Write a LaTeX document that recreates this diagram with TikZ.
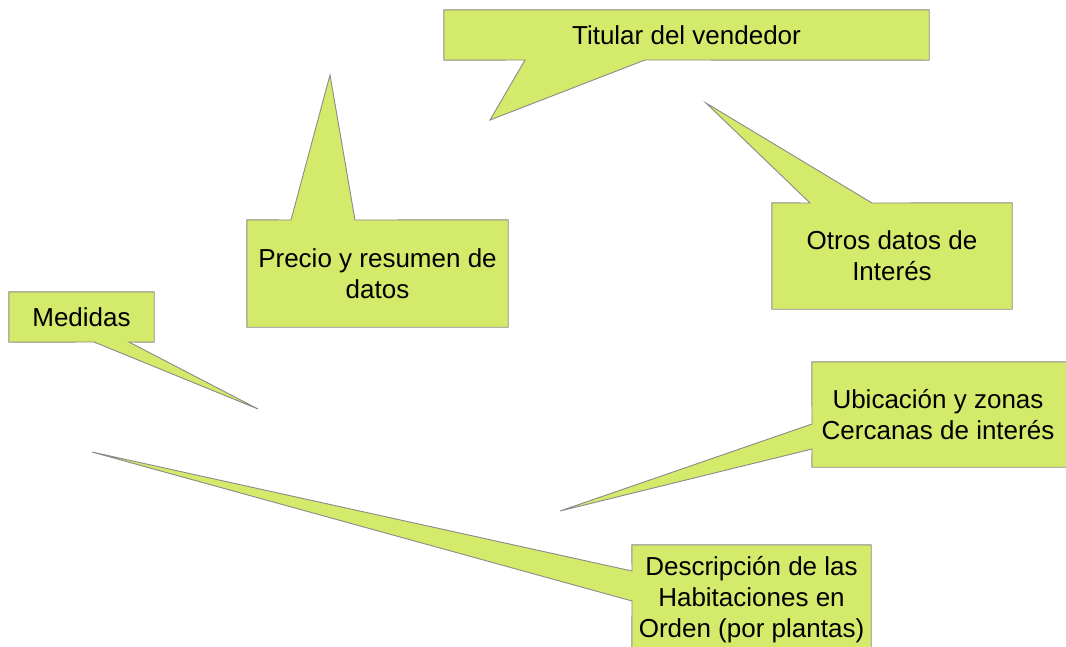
\documentclass[tikz,border=0pt]{standalone}
\usepackage{fontspec}
\setmainfont{Liberation Sans}
\usetikzlibrary{backgrounds,calc}
\definecolor{boxfill}{HTML}{D4EA6B}
\definecolor{boxline}{HTML}{8A8A8A}
\tikzset{
  calloutbox/.style={shape=rectangle, inner sep=0pt, align=center,
    font=\fontsize{26}{31}\selectfont, text=black},
  calloutshape/.style={fill=boxfill, draw=boxline, line width=0.9pt, line join=miter},
}
\begin{document}
\begin{tikzpicture}[x=1pt,y=-1pt]
\useasboundingbox (0,0) rectangle (1066,646);

% Titular del vendedor
\node[calloutbox, minimum width=485, minimum height=50] (tit) at (686.5,35) {Titular del vendedor};
\coordinate (tit-a) at (525,60);
\coordinate (tit-b) at (645,60);
\coordinate (tit-tip) at (490,120);

% Precio
\node[calloutbox, minimum width=261, minimum height=107] (pre) at (377.5,273.5) {Precio y resumen de\\datos};
\coordinate (pre-a) at (291,220);
\coordinate (pre-b) at (355,220);
\coordinate (pre-tip) at (330,75);

% Medidas
\node[calloutbox, minimum width=145, minimum height=50] (med) at (81.5,317) {Medidas};
\coordinate (med-a) at (94,342);
\coordinate (med-b) at (129,342);
\coordinate (med-tip) at (258,409);

% Otros datos
\node[calloutbox, minimum width=240, minimum height=106] (otr) at (892,256) {Otros datos de\\Interés};
\coordinate (otr-a) at (810,203);
\coordinate (otr-b) at (872,203);
\coordinate (otr-tip) at (706,103);

% Ubicacion
\node[calloutbox, minimum width=252, minimum height=105] (ubi) at (938,414.5) {Ubicación y zonas\\Cercanas de interés};
\coordinate (ubi-a) at (812,424);
\coordinate (ubi-b) at (812,449);
\coordinate (ubi-tip) at (560,511);

% Descripcion
\node[calloutbox, minimum width=239, minimum height=110] (des) at (751.5,600) {Descripción de las\\Habitaciones en\\Orden (por plantas)};
\coordinate (des-a) at (632,571);
\coordinate (des-b) at (632,601);
\coordinate (des-tip) at (92,452);

\begin{scope}[on background layer]
\draw[calloutshape] (tit.north west) -- (tit.north east) -- (tit.south east) -- (tit-b) -- (tit-tip) -- (tit-a) -- (tit.south west) -- cycle;
\draw[calloutshape] (pre.north west) -- (pre-a) -- (pre-tip) -- (pre-b) -- (pre.north east) -- (pre.south east) -- (pre.south west) -- cycle;
\draw[calloutshape] (med.north west) -- (med.north east) -- (med.south east) -- (med-b) -- (med-tip) -- (med-a) -- (med.south west) -- cycle;
\draw[calloutshape] (otr.north west) -- (otr-a) -- (otr-tip) -- (otr-b) -- (otr.north east) -- (otr.south east) -- (otr.south west) -- cycle;
\draw[calloutshape] (ubi.north west) -- ($(ubi.north east)+(20,0)$) -- ($(ubi.south east)+(20,0)$) -- (ubi.south west) -- (ubi-b) -- (ubi-tip) -- (ubi-a) -- cycle;
\draw[calloutshape] (des.north west) -- (des.north east) -- (des.south east) -- (des.south west) -- (des-b) -- (des-tip) -- (des-a) -- cycle;
\end{scope}
\end{tikzpicture}
\end{document}
